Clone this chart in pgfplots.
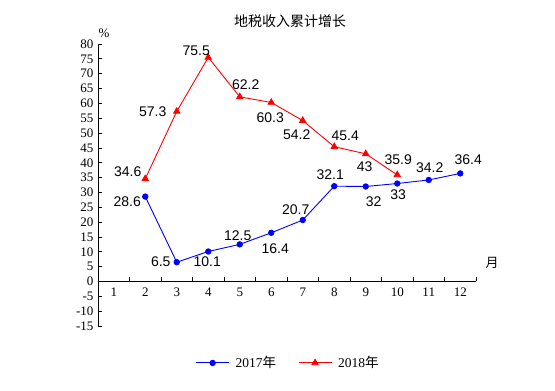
\documentclass[border=0pt]{standalone}
\usepackage{pgfplots}
\pgfplotsset{compat=1.18}
\usepackage{pgfplotstable}
\usepackage{fontspec}
\setmainfont{Liberation Serif}
\newfontfamily\cjk{Noto Sans CJK SC}
\newfontfamily\arial{Liberation Sans}
\definecolor{sblue}{RGB}{0,0,255}
\definecolor{sred}{RGB}{255,0,0}

\pgfplotstableread{
x y lab dx dy
2 28.6 28.6 -18 -5
3 6.5 6.5 -16 0
4 10.1 10.1 -1 -10
5 12.5 12.5 -2 9
6 16.4 16.4 4 -16
7 20.7 20.7 -7 10
8 32.1 32.1 -4 12
9 32 32 8 -15
10 33 33 1 -11
11 34.2 34.2 1 12
12 36.4 36.4 8 14
}\tA
\pgfplotstableread{
x y lab dx dy
2 34.6 34.6 -17.5 7
3 57.3 57.3 -24 0
4 75.5 75.5 -12 7
5 62.2 62.2 6 12
6 60.3 60.3 -1 -15
7 54.2 54.2 -6 -14
8 45.4 45.4 11 11
9 43 43 -1 -13
10 35.9 35.9 1 15
}\tB

\begin{document}
\begin{tikzpicture}
\useasboundingbox (0,0) rectangle (555pt,391pt);
\begin{axis}[
  at={(98pt,65pt)}, anchor=south west,
  scale only axis, width=378pt, height=282pt,
  xmin=0.5, xmax=12.5, ymin=-15, ymax=80,
  axis x line=middle, axis y line=left,
  x axis line style={-, line width=0.8pt},
  y axis line style={-, line width=0.8pt},
  hide obscured x ticks=false, hide obscured y ticks=false,
  xtick={0.5,1.5,...,12.5},
  x tick label as interval,
  xticklabels={1,2,3,4,5,6,7,8,9,10,11,12},
  ytick={-15,-10,...,80},
  tick align=inside,
  major tick length=4pt,
  tick style={black, line width=0.8pt},
  /pgf/number format/assume math mode=true,
  tick label style={font=\fontsize{13}{13}\selectfont},
  x tick label style={yshift=-3pt},
  y tick label style={xshift=-1pt},
  clip=false,
  legend columns=2,
  legend style={at={(rel axis cs:0.503,-0.131)}, anchor=center, draw=none,
    font=\fontsize{13.5}{13.5}\selectfont, column sep=4pt,
    /tikz/every even column/.append style={column sep=20pt}},
  legend image code/.code={\draw[#1, mark repeat=2, mark phase=2] plot coordinates {(0pt,0pt) (16.5pt,0pt) (33pt,0pt)};},
  point meta=explicit symbolic,
  nodes near coords={\arial\fontsize{14}{14}\selectfont\pgfplotspointmeta},
  visualization depends on={\thisrow{dx} \as \dx},
  visualization depends on={\thisrow{dy} \as \dy},
  nodes near coords style={anchor=center, inner sep=0pt, xshift=\dx*1pt, yshift=\dy*1pt, text=black},
]
\addplot[color=sblue, line width=0.9pt, mark=*, mark size=2.7pt, mark options={fill=sblue, draw=sblue}] table[x=x, y=y, meta=lab] {\tA};
\addlegendentry{2017{\cjk 年}}
\addplot[color=sred, line width=0.9pt, mark=triangle*, mark size=3.6pt, mark options={fill=sred, draw=sred}] table[x=x, y=y, meta=lab] {\tB};
\addlegendentry{2018{\cjk 年}}
\end{axis}
\node[font=\cjk\fontsize{14}{14}\selectfont] at (290pt,370pt) {地税收入累计增长};
\node[font=\fontsize{13}{13}\selectfont] at (104pt,358pt) {\%};
\node[font=\cjk\fontsize{13}{13}\selectfont] at (492pt,128pt) {月};
\end{tikzpicture}
\end{document}
